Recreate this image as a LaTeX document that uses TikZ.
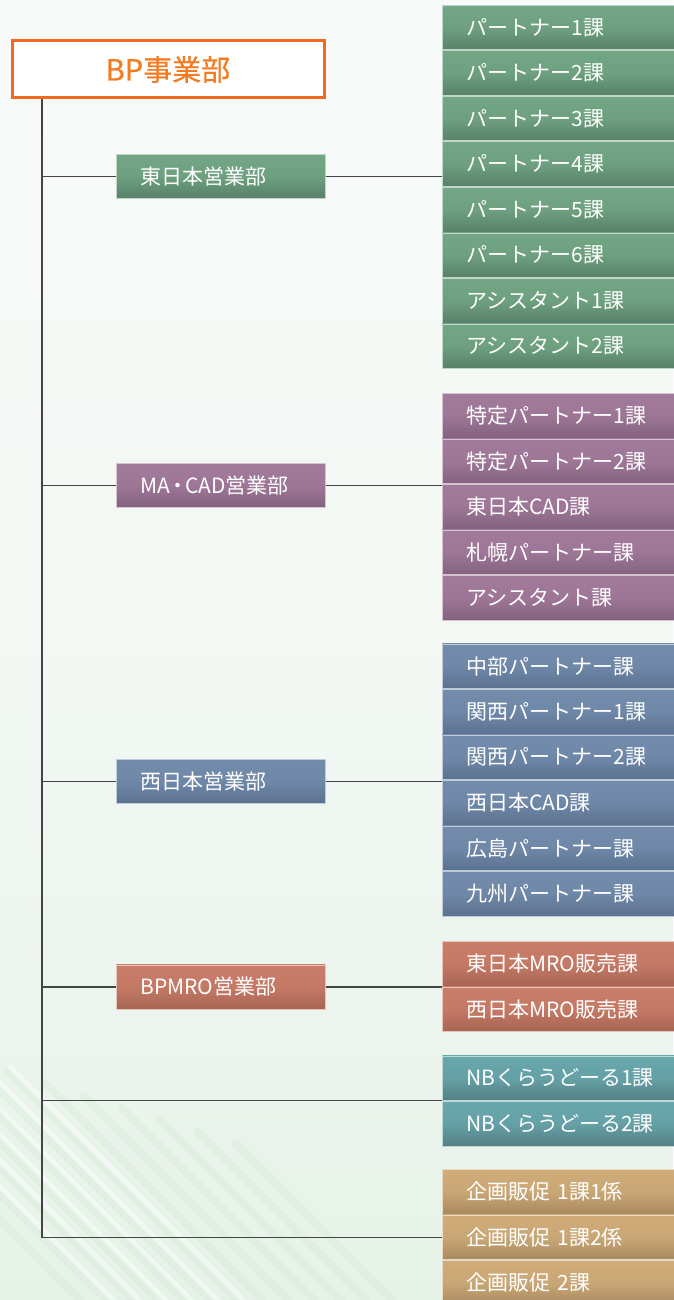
\documentclass[tikz,border=0pt]{standalone}
\usepackage{fontspec}
\setmainfont{Noto Sans CJK JP}
\newfontfamily\bpfont{Noto Sans CJK JP}[FakeBold=0.6]
\definecolor{gT}{HTML}{72A684}\definecolor{gB}{HTML}{58806A}
\definecolor{pT}{HTML}{A27A9B}\definecolor{pB}{HTML}{84627F}
\definecolor{bT}{HTML}{738CAB}\definecolor{bB}{HTML}{5B7190}
\definecolor{rT}{HTML}{CA7D68}\definecolor{rB}{HTML}{A66554}
\definecolor{tT}{HTML}{68A7AC}\definecolor{tB}{HTML}{537F84}
\definecolor{kT}{HTML}{CFAC79}\definecolor{kB}{HTML}{A88A60}
\definecolor{orC}{HTML}{F26A22}\definecolor{orT}{HTML}{F47B20}
\definecolor{lineC}{HTML}{444444}
\definecolor{bgTop}{HTML}{F8FAF9}\definecolor{bgBot}{HTML}{E6F2E8}
\definecolor{stripe}{HTML}{D6EAD8}
\begin{document}
\begin{tikzpicture}[x=1pt,y=-1pt,
  lnk/.style={draw=lineC, line width=1.5pt},
  subbox/.style={anchor=north west, minimum width=240pt, minimum height=44.5pt,
    inner xsep=24pt, inner ysep=0pt, text width=192pt, align=left, text=white,
    font=\fontsize{21}{25}\selectfont},
  deptbox/.style={anchor=north west, minimum width=209pt, minimum height=44pt,
    inner xsep=24pt, inner ysep=0pt, text width=161pt, align=left, text=white,
    font=\fontsize{21}{25}\selectfont},
  gfill/.style={top color=gT, bottom color=gB, middle color=gT!85!gB, draw=gT!45!white, line width=0.7pt},
  pfill/.style={top color=pT, bottom color=pB, middle color=pT!85!pB, draw=pT!45!white, line width=0.7pt},
  bfill/.style={top color=bT, bottom color=bB, middle color=bT!85!bB, draw=bT!45!white, line width=0.7pt},
  rfill/.style={top color=rT, bottom color=rB, middle color=rT!85!rB, draw=rT!45!white, line width=0.7pt},
  tfill/.style={top color=tT, bottom color=tB, middle color=tT!85!tB, draw=tT!45!white, line width=0.7pt},
  kfill/.style={top color=kT, bottom color=kB, middle color=kT!85!kB, draw=kT!45!white, line width=0.7pt},
]
\useasboundingbox (0,0) rectangle (673,1300);
% background
\shade[top color=bgTop, bottom color=bgBot, middle color=bgTop!70!bgBot] (0,0) rectangle (673,1300);
\begin{scope}
  \clip (0,0) rectangle (673,1300);
  \foreach \k in {0,...,12} {
    \draw[stripe, line width=8pt, opacity=0.4, line cap=round]
      (-220+\k*38, 1000+\k*12) -- (230+\k*38, 1450+\k*12);
  }
  \foreach \k in {0,...,5} {
    \draw[white, line width=5pt, opacity=0.45]
      (-200+\k*38+19, 1006+\k*12) -- (250+\k*38+19, 1456+\k*12);
  }
\end{scope}

% top box
\node[draw=orC, line width=3pt, fill=white, minimum width=312pt, minimum height=57pt,
  inner sep=0pt, anchor=north west, text=orT, font=\bpfont\fontsize{29}{33}\selectfont]
  (bp) at (10.5,39.5) {BP事業部};

% departments
\node[deptbox, gfill] (d1) at (116,154) {東日本営業部};
\node[deptbox, pfill] (d2) at (116,463) {MA\kern-3pt・\kern-3pt CAD営業部};
\node[deptbox, bfill] (d3) at (116,759) {西日本営業部};
\node[deptbox, rfill] (d4) at (116,964.5) {BPMRO営業部};

% green sections
\node[subbox, gfill] (g1) at (442,5.0) {パートナー1課};
\node[subbox, gfill] (g2) at (442,50.5) {パートナー2課};
\node[subbox, gfill] (g3) at (442,96.0) {パートナー3課};
\node[subbox, gfill] (g4) at (442,141.5) {パートナー4課};
\node[subbox, gfill] (g5) at (442,187.0) {パートナー5課};
\node[subbox, gfill] (g6) at (442,232.5) {パートナー6課};
\node[subbox, gfill] (g7) at (442,278.0) {アシスタント1課};
\node[subbox, gfill] (g8) at (442,323.5) {アシスタント2課};

% purple sections
\node[subbox, pfill] (p1) at (442,393.0) {特定パートナー1課};
\node[subbox, pfill] (p2) at (442,438.5) {特定パートナー2課};
\node[subbox, pfill] (p3) at (442,484.0) {東日本CAD課};
\node[subbox, pfill] (p4) at (442,529.5) {札幌パートナー課};
\node[subbox, pfill] (p5) at (442,575.0) {アシスタント課};

% blue sections
\node[subbox, bfill] (b1) at (442,643.5) {中部パートナー課};
\node[subbox, bfill] (b2) at (442,689.0) {関西パートナー1課};
\node[subbox, bfill] (b3) at (442,734.5) {関西パートナー2課};
\node[subbox, bfill] (b4) at (442,780.0) {西日本CAD課};
\node[subbox, bfill] (b5) at (442,825.5) {広島パートナー課};
\node[subbox, bfill] (b6) at (442,871.0) {九州パートナー課};

% MRO sections
\node[subbox, rfill] (m1) at (442,941.0) {東日本MRO販売課};
\node[subbox, rfill] (m2) at (442,986.5) {西日本MRO販売課};

% NB sections
\node[subbox, tfill] (n1) at (442,1055.5) {NBくらうどーる1課};
\node[subbox, tfill] (n2) at (442,1101.0) {NBくらうどーる2課};

% planning sections
\node[subbox, kfill] (k1) at (442,1169.0) {企画販促 1課1係};
\node[subbox, kfill] (k2) at (442,1214.5) {企画販促 1課2係};
\node[subbox, kfill] (k3) at (442,1260.0) {企画販促 2課};

% connectors
\coordinate (tb) at (42,1237.5);
\draw[lnk] (bp.south -| tb) -- (tb);
\draw[lnk] (d1.west -| tb) -- (d1.west);
\draw[lnk] (d2.west -| tb) -- (d2.west);
\draw[lnk] (d3.west -| tb) -- (d3.west);
\draw[lnk] (d4.west -| tb) -- (d4.west);
\draw[lnk] (d1.east) -- (d1.east -| g4.west);
\draw[lnk] (d2.east) -- (d2.east -| p2.west);
\draw[lnk] (d3.east) -- (d3.east -| b3.west);
\draw[lnk] (d4.east) -- (d4.east -| m1.west);
\draw[lnk] (n1.south west -| tb) -- (n1.south west);
\draw[lnk] (tb) -- (tb -| k2.west);
\end{tikzpicture}
\end{document}
